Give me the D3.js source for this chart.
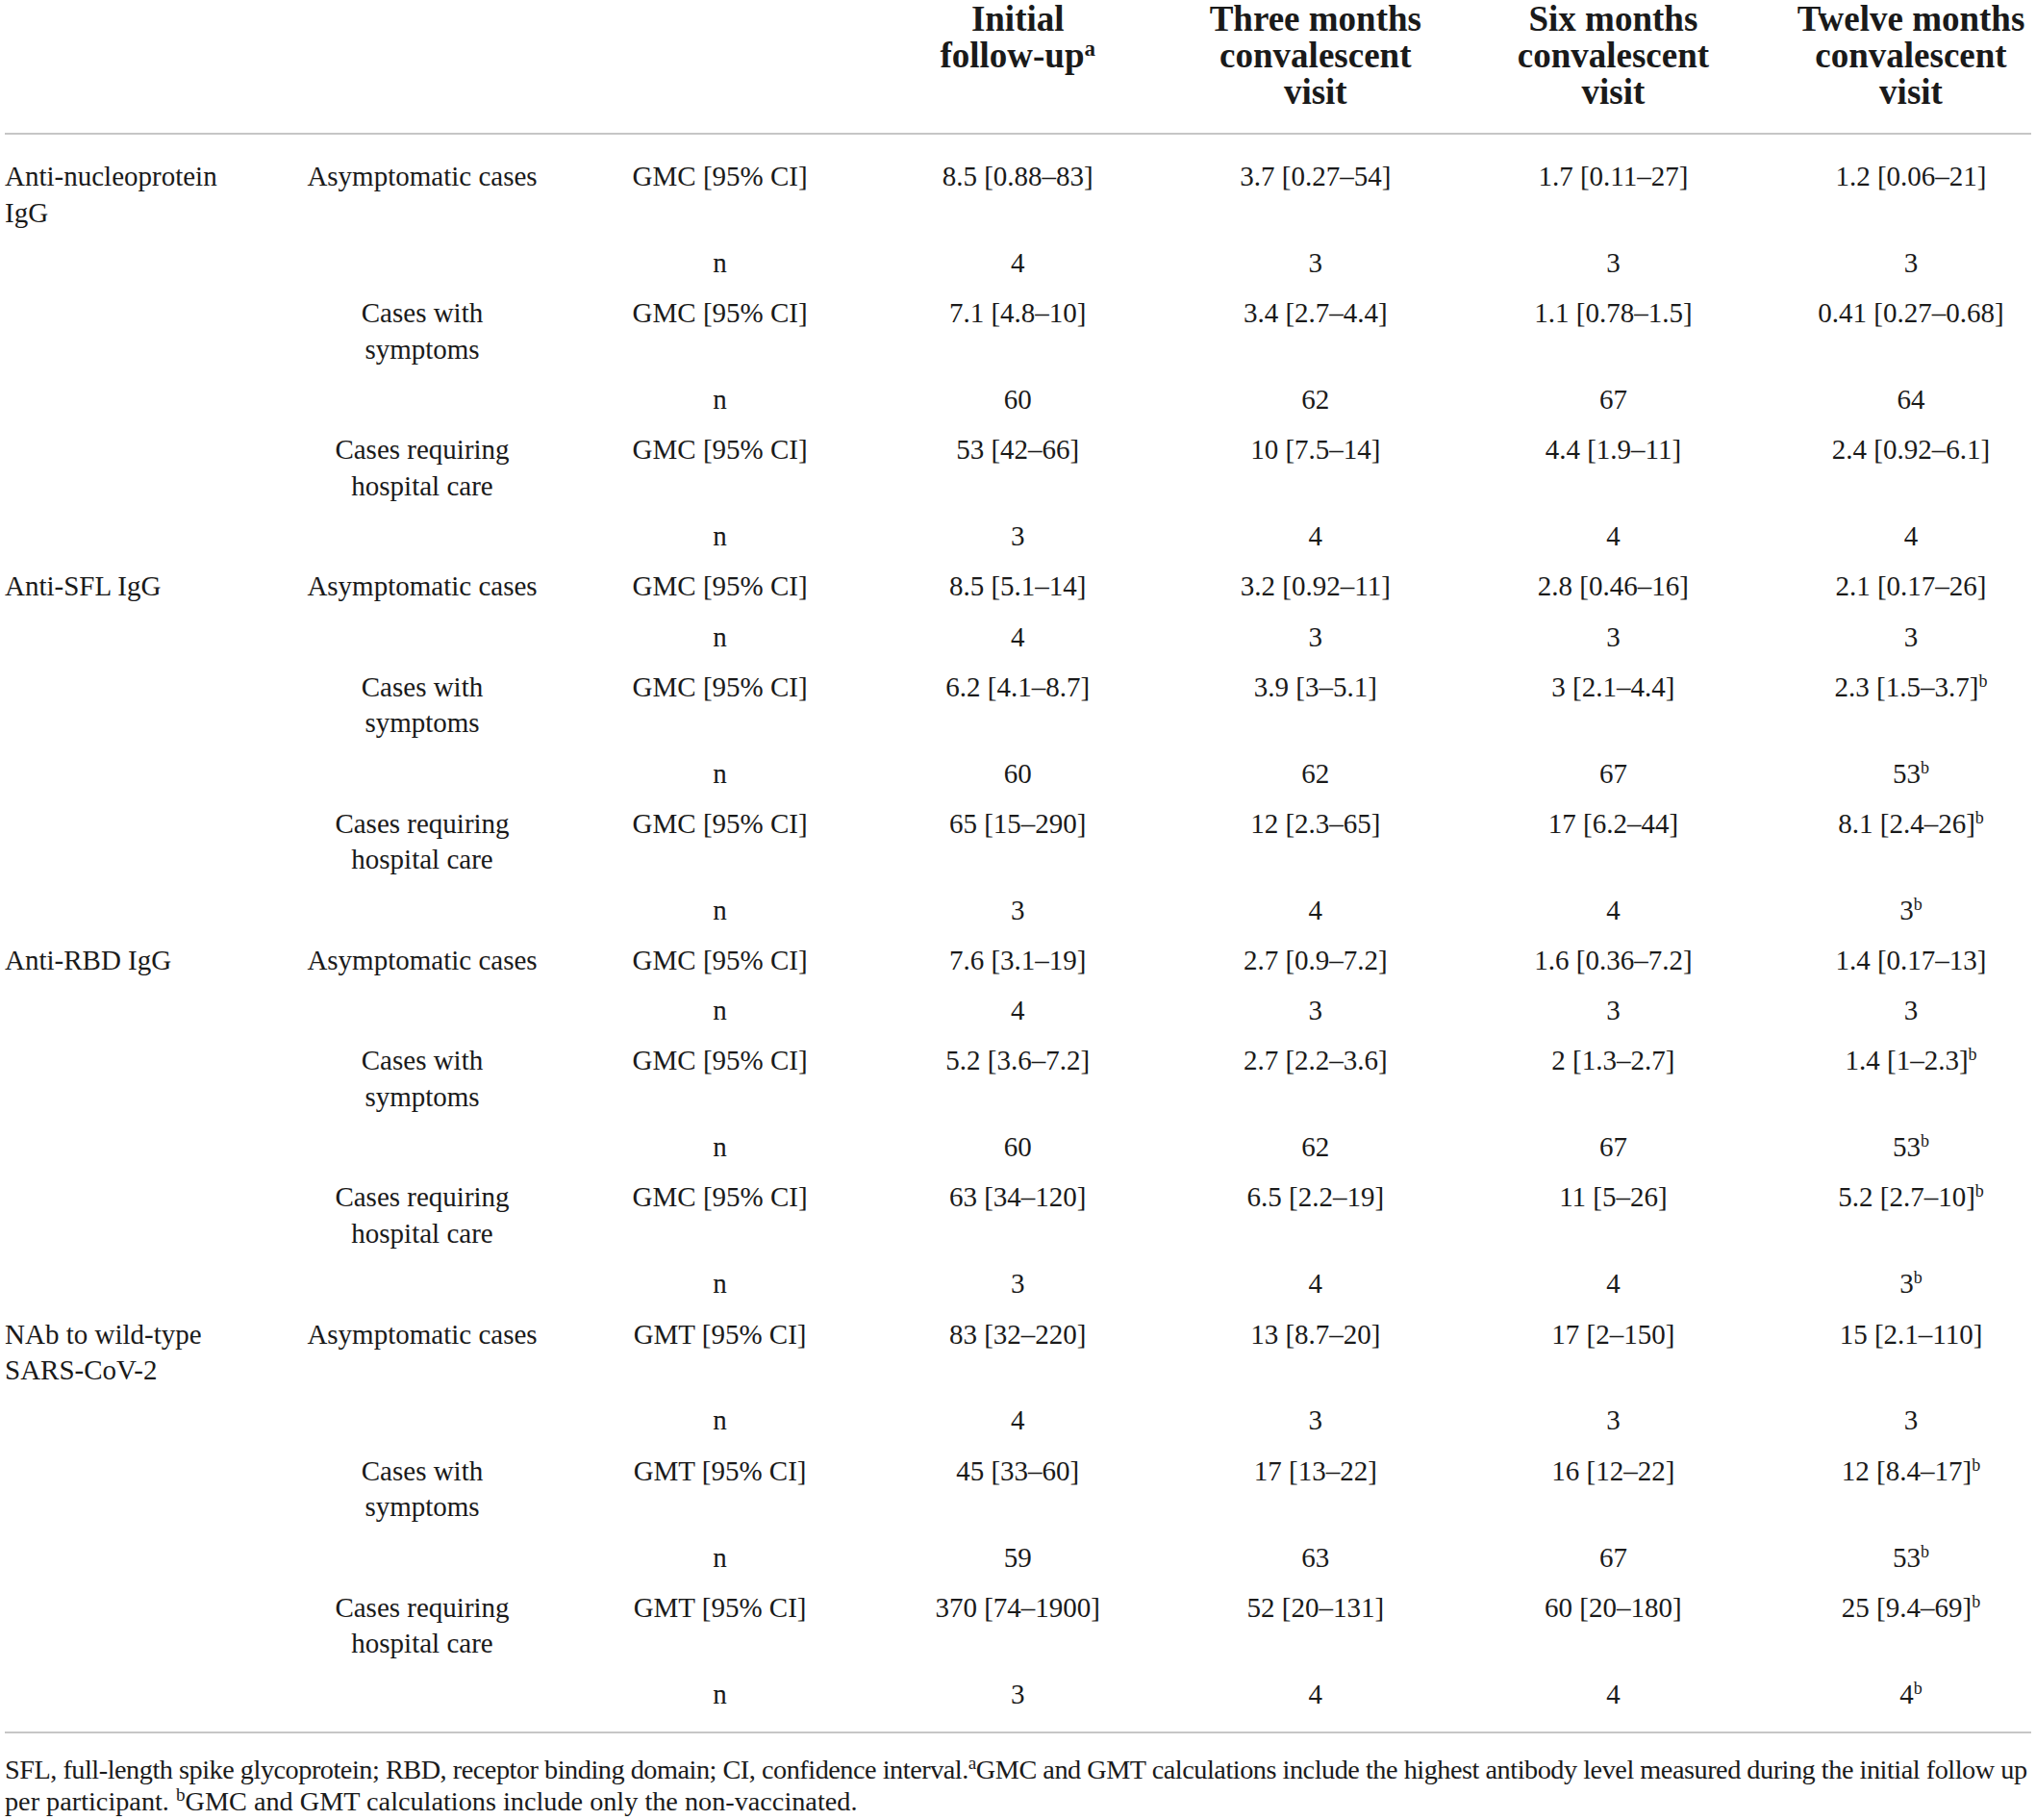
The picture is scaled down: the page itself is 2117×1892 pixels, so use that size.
<!DOCTYPE html>
<html>
<head>
<meta charset="utf-8">
<script src="https://cdn.jsdelivr.net/npm/d3@7"></script>
<style>
  html, body { margin: 0; padding: 0; background: #fff; }
  svg { display: block; }
  text { font-family: "Liberation Serif", "DejaVu Serif", serif; fill: #1a1a1a; }
</style>
</head>
<body>
<svg id="chart" width="2117" height="1892"></svg>
<script>
// ---------- data ----------
const headers = [
  ["Initial", "follow-up^a"],
  ["Three months", "convalescent", "visit"],
  ["Six months", "convalescent", "visit"],
  ["Twelve months", "convalescent", "visit"]
];
const groups = [["Anti-nucleoprotein", "IgG"], ["Anti-SFL IgG"], ["Anti-RBD IgG"], ["NAb to wild-type", "SARS-CoV-2"]];
const measures = ["GMC [95% CI]", "GMC [95% CI]", "GMC [95% CI]", "GMT [95% CI]"];
const severities = [["Asymptomatic cases"], ["Cases with", "symptoms"], ["Cases requiring", "hospital care"]];

const npValues = [
  ["8.5 [0.88–83]", "3.7 [0.27–54]", "1.7 [0.11–27]", "1.2 [0.06–21]"],
  ["7.1 [4.8–10]", "3.4 [2.7–4.4]", "1.1 [0.78–1.5]", "0.41 [0.27–0.68]"],
  ["53 [42–66]", "10 [7.5–14]", "4.4 [1.9–11]", "2.4 [0.92–6.1]"]
];
const npN = [["4", "3", "3", "3"], ["60", "62", "67", "64"], ["3", "4", "4", "4"]];

const sflValues = [
  ["8.5 [5.1–14]", "3.2 [0.92–11]", "2.8 [0.46–16]", "2.1 [0.17–26]"],
  ["6.2 [4.1–8.7]", "3.9 [3–5.1]", "3 [2.1–4.4]", "2.3 [1.5–3.7]^b"],
  ["65 [15–290]", "12 [2.3–65]", "17 [6.2–44]", "8.1 [2.4–26]^b"]
];
const sflN = [["4", "3", "3", "3"], ["60", "62", "67", "53^b"], ["3", "4", "4", "3^b"]];

const rbdValues = [
  ["7.6 [3.1–19]", "2.7 [0.9–7.2]", "1.6 [0.36–7.2]", "1.4 [0.17–13]"],
  ["5.2 [3.6–7.2]", "2.7 [2.2–3.6]", "2 [1.3–2.7]", "1.4 [1–2.3]^b"],
  ["63 [34–120]", "6.5 [2.2–19]", "11 [5–26]", "5.2 [2.7–10]^b"]
];
const rbdN = [["4", "3", "3", "3"], ["60", "62", "67", "53^b"], ["3", "4", "4", "3^b"]];

const nabValues = [
  ["83 [32–220]", "13 [8.7–20]", "17 [2–150]", "15 [2.1–110]"],
  ["45 [33–60]", "17 [13–22]", "16 [12–22]", "12 [8.4–17]^b"],
  ["370 [74–1900]", "52 [20–131]", "60 [20–180]", "25 [9.4–69]^b"]
];
const nabN = [["4", "3", "3", "3"], ["59", "63", "67", "53^b"], ["3", "4", "4", "4^b"]];

const footnoteLines = [
  "SFL, full-length spike glycoprotein; RBD, receptor binding domain; CI, confidence interval.^aGMC and GMT calculations include the highest antibody level measured during the initial follow up",
  "per participant. ^bGMC and GMT calculations include only the non-vaccinated."
];

// ---------- build table rows ----------
const allValues = [npValues, sflValues, rbdValues, nabValues];
const allN = [npN, sflN, rbdN, nabN];
const rows = [];
groups.forEach((g, gi) => {
  severities.forEach((s, si) => {
    rows.push({ c0: si === 0 ? g : [], c1: s, c2: measures[gi], vals: allValues[gi][si] });
    rows.push({ c0: [], c1: [], c2: "n", vals: allN[gi][si] });
  });
});

// ---------- layout ----------
const svg = d3.select("#chart");
const colKeys = ["c1", "c2", "t0", "t1", "t2", "t3"];
const x = d3.scalePoint().domain(colKeys).range([439, 1987]);
const leftX = 5;
const bodySize = 29, headSize = 37;
const lineH = 37.7, rowBase = 52.2;
const firstBaseline = 193;

let acc = 0;
rows.forEach(r => {
  r.lines = Math.max(r.c0.length || 1, r.c1.length || 1);
  r.offset = acc;
  acc += rowBase + (r.lines - 1) * lineH;
});
const y = d3.scaleLinear().domain([0, 1]).range([firstBaseline, firstBaseline + 1]);

function addText(sel, str, size) {
  const parts = str.split(/\^(\w)/);
  parts.forEach((p, i) => {
    if (p === "") return;
    if (i % 2 === 1) {
      sel.append("tspan").attr("class", "sup").attr("baseline-shift", "super").attr("font-size", size * 0.62).text(p);
    } else {
      sel.append("tspan").text(p);
    }
  });
}

// header
const headG = svg.append("g");
headers.forEach((h, i) => {
  h.forEach((line, li) => {
    const t = headG.append("text")
      .attr("x", x("t" + i))
      .attr("y", 32 + li * 38)
      .attr("text-anchor", "middle")
      .attr("font-size", headSize)
      .attr("font-weight", "bold");
    addText(t, line, headSize);
  });
});

// rules
svg.append("line").attr("x1", 5).attr("x2", 2112).attr("y1", 139).attr("y2", 139)
  .attr("stroke", "#c6c6c6").attr("stroke-width", 2.2);
svg.append("line").attr("x1", 5).attr("x2", 2112).attr("y1", 1801).attr("y2", 1801)
  .attr("stroke", "#c6c6c6").attr("stroke-width", 2.2);

// body
const body = svg.append("g");
const rowG = body.selectAll("g.row").data(rows).join("g").attr("class", "row")
  .attr("transform", d => `translate(0,${y(d.offset)})`);

rowG.each(function (d) {
  const g = d3.select(this);
  d.c0.forEach((line, li) => {
    g.append("text").attr("x", leftX).attr("y", li * lineH)
      .attr("font-size", bodySize).text(line);
  });
  d.c1.forEach((line, li) => {
    g.append("text").attr("x", x("c1")).attr("y", li * lineH)
      .attr("text-anchor", "middle").attr("font-size", bodySize).text(line);
  });
  g.append("text").attr("x", x("c2")).attr("y", 0)
    .attr("text-anchor", "middle").attr("font-size", bodySize).text(d.c2);
  d.vals.forEach((v, vi) => {
    const t = g.append("text").attr("x", x("t" + vi)).attr("y", 0)
      .attr("text-anchor", "middle").attr("font-size", bodySize);
    addText(t, v, bodySize);
  });
});

// footnote
const footSize0 = 26;
const foot = svg.append("g");
const fl = footnoteLines.map((line, i) => {
  const t = foot.append("text").attr("x", 5).attr("y", 1848.5 + i * 33.8).attr("font-size", footSize0);
  addText(t, line, footSize0);
  return t;
});
const w1 = fl[1].node().getComputedTextLength();
const fs = footSize0 * 886 / w1;
fl.forEach(t => {
  t.attr("font-size", fs);
  t.selectAll("tspan.sup").attr("font-size", fs * 0.68);
});
const wFirst = fl[0].node().getComputedTextLength();
if (wFirst > 2103) fl[0].attr("textLength", 2103).attr("lengthAdjust", "spacing");
</script>
</body>
</html>
